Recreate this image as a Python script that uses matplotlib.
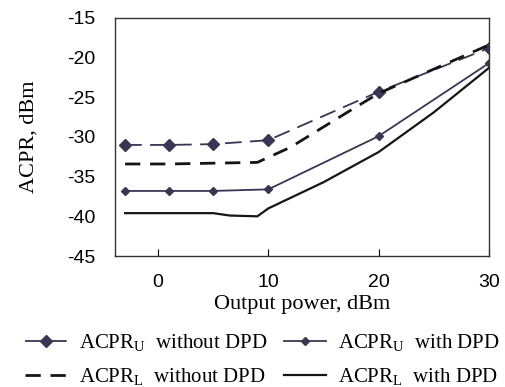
import matplotlib
matplotlib.use("Agg")
import matplotlib.pyplot as plt

# values
x_u = [-3, 1, 5, 10, 20, 30]
acpr_u_no_dpd = [-31.0, -31.0, -30.9, -30.4, -24.3, -18.8]
acpr_u_dpd = [-36.8, -36.8, -36.8, -36.6, -29.9, -20.7]

x_l_no = [-3, 1, 5, 9, 12, 17.5, 20, 30]
acpr_l_no_dpd = [-33.4, -33.4, -33.3, -33.2, -31.3, -26.6, -24.5, -18.4]

x_l_dpd = [-3, 1, 5, 6.5, 9, 10, 15, 20, 25, 30]
acpr_l_dpd = [-39.6, -39.6, -39.6, -39.9, -40.0, -39.0, -35.7, -31.9, -26.9, -21.3]

xticks = [0, 10, 20, 30]
yticks = [-45, -40, -35, -30, -25, -20, -15]

plt.rcParams['lines.scale_dashes'] = False
plt.rcParams['axes.unicode_minus'] = False
plt.rcParams['mathtext.fontset'] = 'custom'
plt.rcParams['mathtext.rm'] = 'Liberation Serif'

purple = '#3b3553'
black = '#151515'

fig = plt.figure(figsize=(5.05, 3.87), dpi=100)
ax = fig.add_axes([0.228, 0.3385, 0.740, 0.615])

ax.plot(x_u, acpr_u_no_dpd, color=purple, lw=1.3, dashes=(12, 6),
        marker='D', ms=6, label='ACPR$_{\\mathrm{U}}$  without DPD')
ax.plot(x_u, acpr_u_dpd, color=purple, lw=1.3,
        marker='D', ms=4, label='ACPR$_{\\mathrm{U}}$  with DPD')
ax.plot(x_l_no, acpr_l_no_dpd, color=black, lw=2.0, dashes=(11, 7),
        label='ACPR$_{\\mathrm{L}}$  without DPD')
ax.plot(x_l_dpd, acpr_l_dpd, color=black, lw=1.6,
        label='ACPR$_{\\mathrm{L}}$  with DPD')

ax.set_xlim(-3.9, 30)
ax.set_ylim(-45, -15)
ax.set_xticks(xticks)
ax.set_yticks(yticks)
ax.tick_params(axis='x', direction='in', length=5, labelsize=14, pad=13)
ax.tick_params(axis='y', length=0, labelsize=14, pad=14)
for lab in ax.get_xticklabels() + ax.get_yticklabels():
    lab.set_family('Liberation Sans')
for sp in ax.spines.values():
    sp.set_color('#333333')
    sp.set_linewidth(1.0)

ax.set_xlabel('Output power, dBm', family='Liberation Serif', fontsize=16, labelpad=3)
ax.set_ylabel('ACPR, dBm', family='Liberation Serif', fontsize=16, labelpad=21)

h, l = ax.get_legend_handles_labels()
order = [0, 2, 1, 3]
fig.legend([h[i] for i in order], [l[i] for i in order], ncol=2,
           loc='lower center', bbox_to_anchor=(0.52, -0.04), frameon=False,
           prop={'family': 'Liberation Serif', 'size': 15},
           handlelength=2.0, handletextpad=0.6, columnspacing=0.8,
           labelspacing=0.6, borderpad=0.2)

fig.savefig('out.png', dpi=100)
